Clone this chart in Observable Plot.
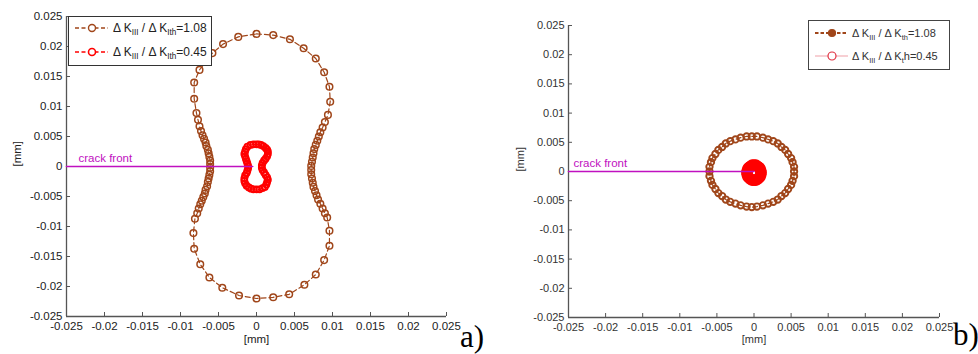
<!DOCTYPE html>
<html><head><meta charset="utf-8">
<script src="https://cdn.jsdelivr.net/npm/d3@7"></script>
<script src="https://cdn.jsdelivr.net/npm/@observablehq/plot@0.6"></script>
<style>
body{margin:0;background:#fff;}
#wrap{position:relative;width:978px;height:354px;overflow:hidden;}
#wrap > svg{position:absolute;top:0;}
#overlay{position:absolute;left:0;top:0;pointer-events:none;}
</style>
</head><body><div id="wrap"></div>
<script>
// ---- tick values and labels (mm) ----
const ticks = [-0.025,-0.02,-0.015,-0.01,-0.005,0,0.005,0.01,0.015,0.02,0.025];
const tickLabels = ["-0.025","-0.02","-0.015","-0.01","-0.005","0","0.005","0.01","0.015","0.02","0.025"];

// ---- panel a) : ΔK_III/ΔK_Ith = 1.08 (x, y in mm) ----
const aHigh = [
[0.0000,0.0221],[0.0022,0.0219],[0.0044,0.0212],[0.0062,0.0197],[0.0078,0.0180],[0.0089,0.0157],
[0.0096,0.0133],[0.0097,0.0108],[0.0094,0.0086],[0.0090,0.0074],[0.0087,0.0065],[0.0084,0.0057],
[0.0082,0.0050],[0.0080,0.0043],[0.0078,0.0036],[0.0076,0.0029],[0.0075,0.0022],[0.0074,0.0015],
[0.0073,0.0008],[0.0072,0.0001],[0.0072,-0.0006],[0.0072,-0.0013],[0.0073,-0.0020],[0.0074,-0.0027],
[0.0075,-0.0034],[0.0077,-0.0041],[0.0079,-0.0048],[0.0081,-0.0055],[0.0084,-0.0062],[0.0087,-0.0070],
[0.0090,-0.0078],[0.0093,-0.0085],[0.0096,-0.0107],[0.0096,-0.0132],[0.0089,-0.0156],[0.0078,-0.0180],
[0.0063,-0.0197],[0.0043,-0.0213],[0.0022,-0.0218],[0.0000,-0.0220],[-0.0023,-0.0215],[-0.0045,-0.0202],
[-0.0062,-0.0185],[-0.0074,-0.0163],[-0.0082,-0.0137],[-0.0083,-0.0111],[-0.0081,-0.0087],[-0.0078,-0.0078],
[-0.0076,-0.0070],[-0.0074,-0.0063],[-0.0072,-0.0057],[-0.0070,-0.0051],[-0.0068,-0.0045],[-0.0067,-0.0039],
[-0.0065,-0.0033],[-0.0064,-0.0026],[-0.0063,-0.0020],[-0.0062,-0.0014],[-0.0061,-0.0008],[-0.0061,-0.0002],
[-0.0061,0.0004],[-0.0061,0.0010],[-0.0062,0.0016],[-0.0063,0.0022],[-0.0064,0.0028],[-0.0066,0.0034],
[-0.0067,0.0040],[-0.0069,0.0046],[-0.0071,0.0052],[-0.0073,0.0059],[-0.0075,0.0067],[-0.0077,0.0078],
[-0.0079,0.0089],[-0.0082,0.0113],[-0.0082,0.0140],[-0.0075,0.0161],[-0.0058,0.0189],[-0.0044,0.0204],
[-0.0024,0.0216]
];
// ---- panel a) : ΔK_III/ΔK_Ith = 0.45 ----
const aLow = [
[0.0000,0.0037],[0.0003,0.0037],[0.0006,0.0036],[0.0009,0.0034],[0.0012,0.0031],[0.0014,0.0028],
[0.0015,0.0025],[0.0015,0.0021],[0.0014,0.0017],[0.0012,0.0013],[0.0010,0.0010],[0.0008,0.0006],
[0.0007,0.0002],[0.0007,-0.0002],[0.0008,-0.0006],[0.0010,-0.0010],[0.0012,-0.0014],[0.0014,-0.0018],
[0.0015,-0.0022],[0.0014,-0.0026],[0.0013,-0.0030],[0.0011,-0.0034],[0.0008,-0.0036],[0.0004,-0.0038],
[0.0000,-0.0038],[-0.0004,-0.0038],[-0.0007,-0.0037],[-0.0010,-0.0035],[-0.0013,-0.0032],[-0.0015,-0.0028],
[-0.0016,-0.0024],[-0.0016,-0.0020],[-0.0015,-0.0015],[-0.0013,-0.0011],[-0.0012,-0.0007],[-0.0011,-0.0003],
[-0.0011,0.0001],[-0.0012,0.0005],[-0.0013,0.0009],[-0.0014,0.0013],[-0.0015,0.0017],[-0.0016,0.0021],
[-0.0015,0.0025],[-0.0014,0.0029],[-0.0012,0.0033],[-0.0008,0.0036],[-0.0004,0.0037]
];
const aCrack = [[-0.025,0],[-0.0005,0]];

// ---- panel b) ----
const bHigh = [
[0.0054,0.0000],[0.0054,0.0008],[0.0052,0.0016],[0.0050,0.0023],[0.0046,0.0030],[0.0042,0.0037],
[0.0037,0.0042],[0.0032,0.0048],[0.0026,0.0052],[0.0019,0.0055],[0.0012,0.0058],[0.0004,0.0060],
[-0.0003,0.0060],[-0.0010,0.0060],[-0.0018,0.0058],[-0.0025,0.0055],[-0.0032,0.0052],[-0.0038,0.0048],
[-0.0043,0.0042],[-0.0048,0.0037],[-0.0052,0.0030],[-0.0056,0.0023],[-0.0058,0.0016],[-0.0060,0.0008],
[-0.0060,0.0000],[-0.0060,-0.0008],[-0.0058,-0.0016],[-0.0056,-0.0023],[-0.0052,-0.0030],[-0.0048,-0.0037],
[-0.0043,-0.0042],[-0.0038,-0.0048],[-0.0032,-0.0052],[-0.0025,-0.0055],[-0.0018,-0.0058],[-0.0010,-0.0060],
[-0.0003,-0.0061],[0.0004,-0.0060],[0.0012,-0.0058],[0.0019,-0.0055],[0.0026,-0.0052],[0.0032,-0.0048],
[0.0037,-0.0042],[0.0042,-0.0037],[0.0046,-0.0030],[0.0050,-0.0023],[0.0052,-0.0016],[0.0054,-0.0008]
];
const bLow = [
[0.00095,-0.0002],[0.00092,0.0001],[0.00082,0.0005],[0.00067,0.0007],[0.00048,0.0009],[0.00025,0.0011],
[0.0000,0.0011],[-0.00025,0.0011],[-0.00048,0.0009],[-0.00067,0.0007],[-0.00082,0.0005],[-0.00092,0.0001],
[-0.00095,-0.0002],[-0.00092,-0.0005],[-0.00082,-0.0009],[-0.00067,-0.0011],[-0.00048,-0.0013],[-0.00025,-0.0015],
[0.0000,-0.0015],[0.00025,-0.0015],[0.00048,-0.0013],[0.00067,-0.0011],[0.00082,-0.0009],[0.00092,-0.0005]
];
const bCrack = [[-0.025,0],[0,0]];

const BROWN = "#a0461a", RED = "#ff0000", MAGENTA = "#c010c0";
const fmt = d => tickLabels[ticks.indexOf(d)];

function panel(o){
  const W = 489, H = 354;
  const fh = H - o.mt - o.mb, fw = W - o.ml - o.mr;
  return Plot.plot({
    width: W, height: H,
    marginLeft: o.ml, marginRight: o.mr, marginTop: o.mt, marginBottom: o.mb,
    x: {domain: [-0.025, 0.025]},
    y: {domain: [-0.025, 0.025]},
    style: {fontFamily: '"Liberation Sans", Arial, sans-serif', fontSize: o.fs + "px", color: o.tc, background: "transparent", overflow: "visible"},
    marks: [
      Plot.axisX({ticks, tickFormat: fmt, tickSize: 0, tickPadding: o.padX, label: null}),
      Plot.axisY({ticks, tickFormat: fmt, tickSize: 0, tickPadding: 4, label: null}),
      Plot.tickX(ticks, {x: d => d, insetTop: fh - 4, stroke: o.ac}),
      Plot.tickY(ticks, {y: d => d, insetRight: fw - 4, stroke: o.ac}),
      Plot.ruleX([-0.025], {stroke: o.ac, strokeWidth: 1.3}),
      Plot.ruleY([-0.025], {stroke: o.ac, strokeWidth: 1.3}),
      Plot.text(["[mm]"], {frameAnchor: "bottom", dy: o.xlab, text: d => d, fill: o.tc}),
      Plot.text(["[mm]"], {frameAnchor: "left", dx: o.ylab, rotate: -90, text: d => d, fill: o.tc}),
      ...o.marks,
      Plot.line(o.crack, {x: d => d[0], y: d => d[1], stroke: MAGENTA, strokeWidth: 1.6}),
      Plot.text(["crack front"], {x: -0.025, y: 0, dx: o.cdx, dy: o.cdy, text: d => d, textAnchor: "start", fill: MAGENTA, fontSize: 11.5})
    ]
  });
}

const pa = panel({
  ml: 66, mr: 43, mt: 16, mb: 38, fs: 11.5, tc: "#222", ac: "#555", padX: 5, xlab: 26, ylab: -49,
  crack: aCrack, cdx: 12, cdy: -8,
  marks: [
    Plot.line(aHigh, {x: d => d[0], y: d => d[1], curve: "linear-closed", stroke: BROWN, strokeWidth: 1.2, strokeDasharray: "5,3"}),
    Plot.dot(aHigh, {x: d => d[0], y: d => d[1], r: 3.3, stroke: BROWN, strokeWidth: 1.5, fill: "none"}),
    Plot.line(aLow, {x: d => d[0], y: d => d[1], curve: "linear-closed", stroke: RED, strokeWidth: 1.2, strokeDasharray: "5,3"}),
    Plot.dot(aLow, {x: d => d[0], y: d => d[1], r: 3, stroke: RED, strokeWidth: 1.8, fill: "none"})
  ]
});
const pb = panel({
  ml: 79, mr: 39, mt: 25, mb: 37, fs: 11, tc: "#333", ac: "#555", padX: 5.5, xlab: 25, ylab: -48,
  crack: bCrack, cdx: 5, cdy: -8,
  marks: [
    Plot.line(bHigh, {x: d => d[0], y: d => d[1], curve: "linear-closed", stroke: BROWN, strokeWidth: 1.2, strokeDasharray: "5,3"}),
    Plot.dot(bHigh, {x: d => d[0], y: d => d[1], r: 3.2, stroke: BROWN, strokeWidth: 1.9, fill: "none"}),
    Plot.line(bLow, {x: d => d[0], y: d => d[1], curve: "linear-closed", stroke: RED, strokeWidth: 1}),
    Plot.dot(bLow, {x: d => d[0], y: d => d[1], r: 4.4, stroke: RED, strokeWidth: 2.8, fill: "none"})
  ]
});
pa.style.left = "0px";
pb.style.left = "489px";
const wrap = document.getElementById("wrap");
wrap.appendChild(pa);
wrap.appendChild(pb);

// ---- legends and panel labels ----
const ns = "http://www.w3.org/2000/svg";
const ov = document.createElementNS(ns, "svg");
ov.setAttribute("id", "overlay");
ov.setAttribute("width", 978);
ov.setAttribute("height", 354);
wrap.appendChild(ov);
function el(tag, attrs, parent){
  const e = document.createElementNS(ns, tag);
  for (const k in attrs) e.setAttribute(k, attrs[k]);
  (parent || ov).appendChild(e);
  return e;
}
function legendText(x, y, size, parts, fill){
  const t = el("text", {x, y, "font-family": '"Liberation Sans", Arial, sans-serif', "font-size": size, fill});
  let sub = false;
  for (const [s, isSub] of parts){
    const ts = el("tspan", {}, t);
    if (isSub && !sub){ ts.setAttribute("dy", size*0.28); ts.setAttribute("font-size", size*0.68); }
    else if (isSub){ ts.setAttribute("font-size", size*0.68); }
    else if (!isSub && sub){ ts.setAttribute("dy", -size*0.28); }
    ts.textContent = s;
    sub = isSub;
  }
}
// panel a legend
el("rect", {x: 68.5, y: 16.5, width: 143, height: 49, fill: "#fff", stroke: "#333", "stroke-width": 1});
el("line", {x1: 75, x2: 108, y1: 28, y2: 28, stroke: BROWN, "stroke-width": 1.3, "stroke-dasharray": "4,2.5"});
el("circle", {cx: 92, cy: 28, r: 3.5, stroke: BROWN, "stroke-width": 1.4, fill: "#fff"});
legendText(113, 32, 12, [["Δ K", false], ["III", true], [" / Δ K", false], ["Ith", true], ["=1.08", false]], "#222");
el("line", {x1: 75, x2: 108, y1: 52, y2: 52, stroke: RED, "stroke-width": 1.3, "stroke-dasharray": "4,2.5"});
el("circle", {cx: 92, cy: 52, r: 3.5, stroke: RED, "stroke-width": 1.6, fill: "#fff"});
legendText(113, 56, 12, [["Δ K", false], ["III", true], [" / Δ K", false], ["Ith", true], ["=0.45", false]], "#222");
// panel b legend
el("rect", {x: 808.5, y: 20.5, width: 141, height: 49, fill: "#fff", stroke: "#444", "stroke-width": 1});
el("line", {x1: 815, x2: 848, y1: 33, y2: 33, stroke: BROWN, "stroke-width": 2, "stroke-dasharray": "3.5,2"});
el("circle", {cx: 832, cy: 33, r: 3.5, stroke: BROWN, "stroke-width": 1.2, fill: BROWN});
legendText(852, 37, 11, [["Δ K", false], ["III", true], [" / Δ K", false], ["th", true], ["=1.08", false]], "#333");
el("line", {x1: 815, x2: 848, y1: 56, y2: 56, stroke: "#f0a0a8", "stroke-width": 1.2});
el("circle", {cx: 832, cy: 56, r: 4, stroke: "#e03040", "stroke-width": 1.2, fill: "#fff"});
legendText(852, 60, 11, [["Δ K", false], ["III", true], [" / Δ K", false], ["t", true], ["h=0.45", false]], "#333");
// panel labels
const la = el("text", {x: 460, y: 347, "font-family": '"Liberation Serif", "Times New Roman", serif', "font-size": 31, fill: "#000"}); la.textContent = "a)";
const lb = el("text", {x: 953, y: 345, "font-family": '"Liberation Serif", "Times New Roman", serif', "font-size": 31, fill: "#000"}); lb.textContent = "b)";
</script>
</body></html>
